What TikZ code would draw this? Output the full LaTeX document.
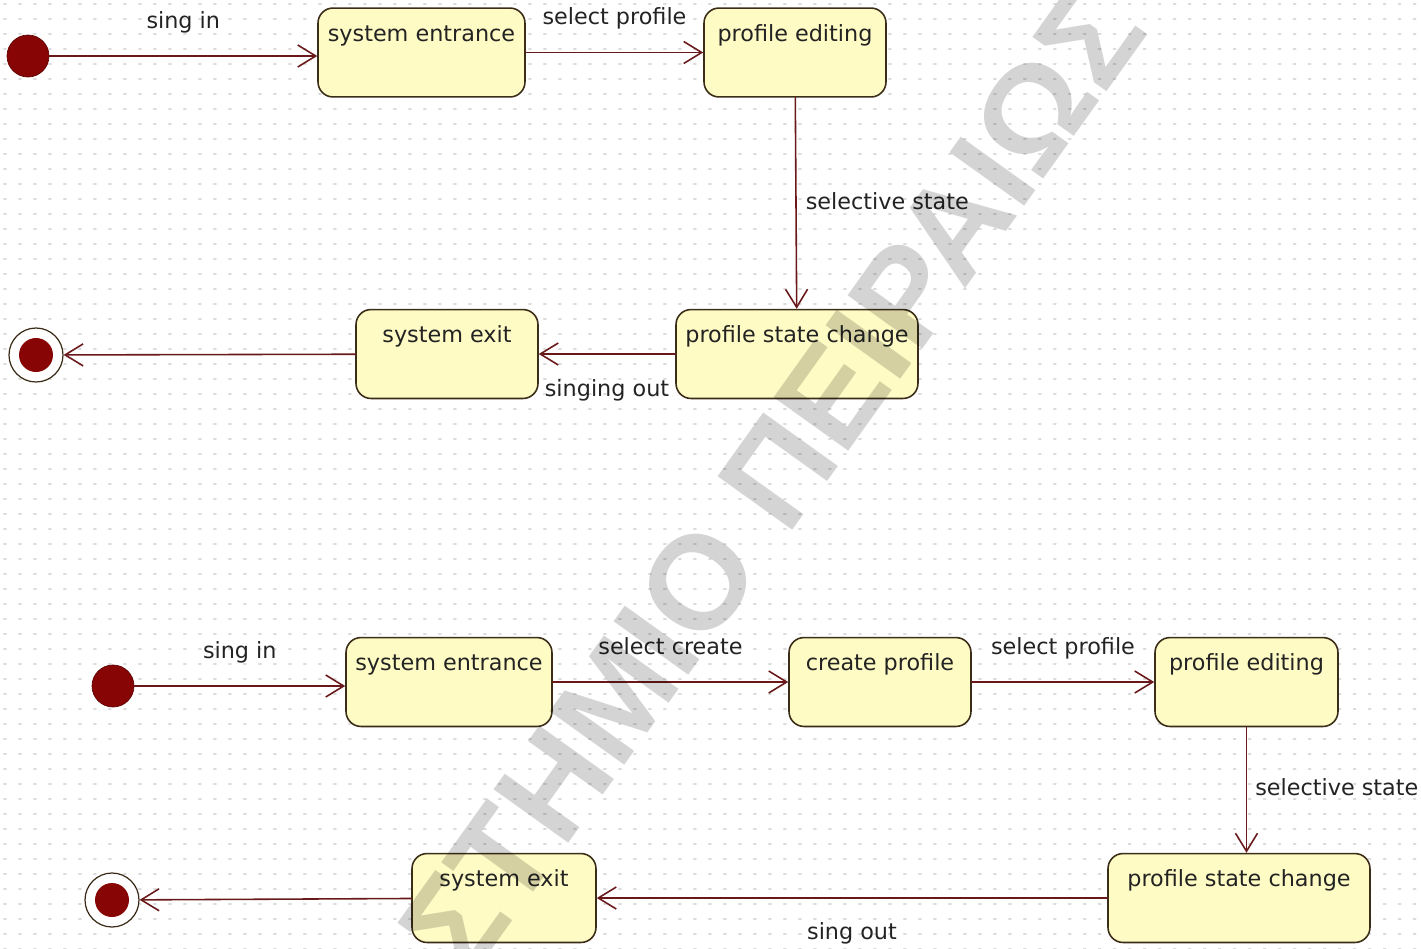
\documentclass[tikz,border=0pt]{standalone}
\usepackage{fontspec}
\setmainfont{DejaVu Sans}
\newfontfamily\wmfont{Liberation Sans}
\usetikzlibrary{arrows.meta,positioning}
\definecolor{stfill}{RGB}{255,251,196}
\definecolor{stline}{RGB}{60,45,25}
\definecolor{trline}{RGB}{105,25,25}
\definecolor{dotred}{RGB}{135,5,5}
\definecolor{txt}{RGB}{35,35,35}
\begin{document}
\begin{tikzpicture}[x=0.02cm, y=-0.02cm, line join=round, line cap=round,
  font=\fontsize{12.7}{15}\selectfont, text=txt,
  >={Straight Barb[length=0.36cm, width=0.44cm]},
  state/.style={draw=stline, fill=stfill, line width=0.9pt, rounded corners=0.3cm, inner xsep=0pt, inner ysep=0pt, text height=19pt, text depth=31.6pt},
  init/.style={circle, fill=dotred, draw=dotred!70!black, inner sep=0pt, minimum size=0.84cm},
  final/.style={circle, draw=stline, fill=white, line width=0.7pt, inner sep=0pt, minimum size=1.08cm, path picture={\fill[dotred] (path picture bounding box.center) circle (0.34cm);}},
  trans/.style={draw=trline, line width=0.9pt, ->},
  lab/.style={inner sep=0pt, text height=9.5pt, text depth=2.7pt},
  griddot/.style={gray!28, line width=0.04cm, dash pattern=on 0.04cm off 0.26cm}]
\useasboundingbox (0,0) rectangle (1421,948);
\foreach \r in {0,...,63} \draw[griddot] (4,\r*15+4) -- (1421,\r*15+4);
% first machine
\node[init] (init1) at (28,56) {};
\node[state, minimum width=4.14cm] (entr1) at (421.5,52.5) {system entrance};
\node[state, minimum width=3.64cm] (edit1) at (795,52.5) {profile editing};
\node[state, minimum width=4.84cm] (change1) at (797,354) {profile state change};
\node[state, minimum width=3.64cm] (exit1) at (447,354) {system exit};
\node[final] (final1) at (36,355) {};
\draw[trans] (init1) -- (init1 -| entr1.west) node[midway, lab, above=0.44cm] {sing in};
\draw[trans] (entr1) -- (edit1) node[midway, lab, above=0.44cm] {select profile};
\draw[trans] (edit1) -- (change1) node[midway, lab, right=0.18cm] {selective state};
\draw[trans] (change1) -- (exit1) node[midway, lab, below=0.5cm] {singing out};
\draw[trans] (exit1) -- (final1);
% second machine
\node[init] (init2) at (113,686) {};
\node[state, minimum width=4.12cm] (entr2) at (449,682) {system entrance};
\node[state, minimum width=3.64cm] (create2) at (880,682) {create profile};
\node[state, minimum width=3.66cm] (edit2) at (1246.5,682) {profile editing};
\node[state, minimum width=5.24cm] (change2) at (1239,898) {profile state change};
\node[state, minimum width=3.68cm] (exit2) at (504,898) {system exit};
\node[final] (final2) at (112,900) {};
\draw[trans] (init2) -- (init2 -| entr2.west) node[midway, lab, above=0.44cm] {sing in};
\draw[trans] (entr2) -- (create2) node[midway, lab, above=0.44cm] {select create};
\draw[trans] (create2) -- (edit2) node[midway, lab, above=0.44cm] {select profile};
\draw[trans] (edit2) -- (edit2 |- change2.north) node[midway, lab, right=0.16cm] {selective state};
\draw[trans] (change2) -- (exit2) node[midway, lab, below=0.48cm] {sing out};
\draw[trans] (exit2) -- (final2);
% watermark
\node[font=\wmfont\bfseries\fontsize{76}{80}\selectfont, text=black, text opacity=0.17, rotate=54.4, inner sep=0pt] (mark) at (772,480) {ΣΤΗΜΙΟ ΠΕΙΡΑΙΩΣ};
\end{tikzpicture}
\end{document}
